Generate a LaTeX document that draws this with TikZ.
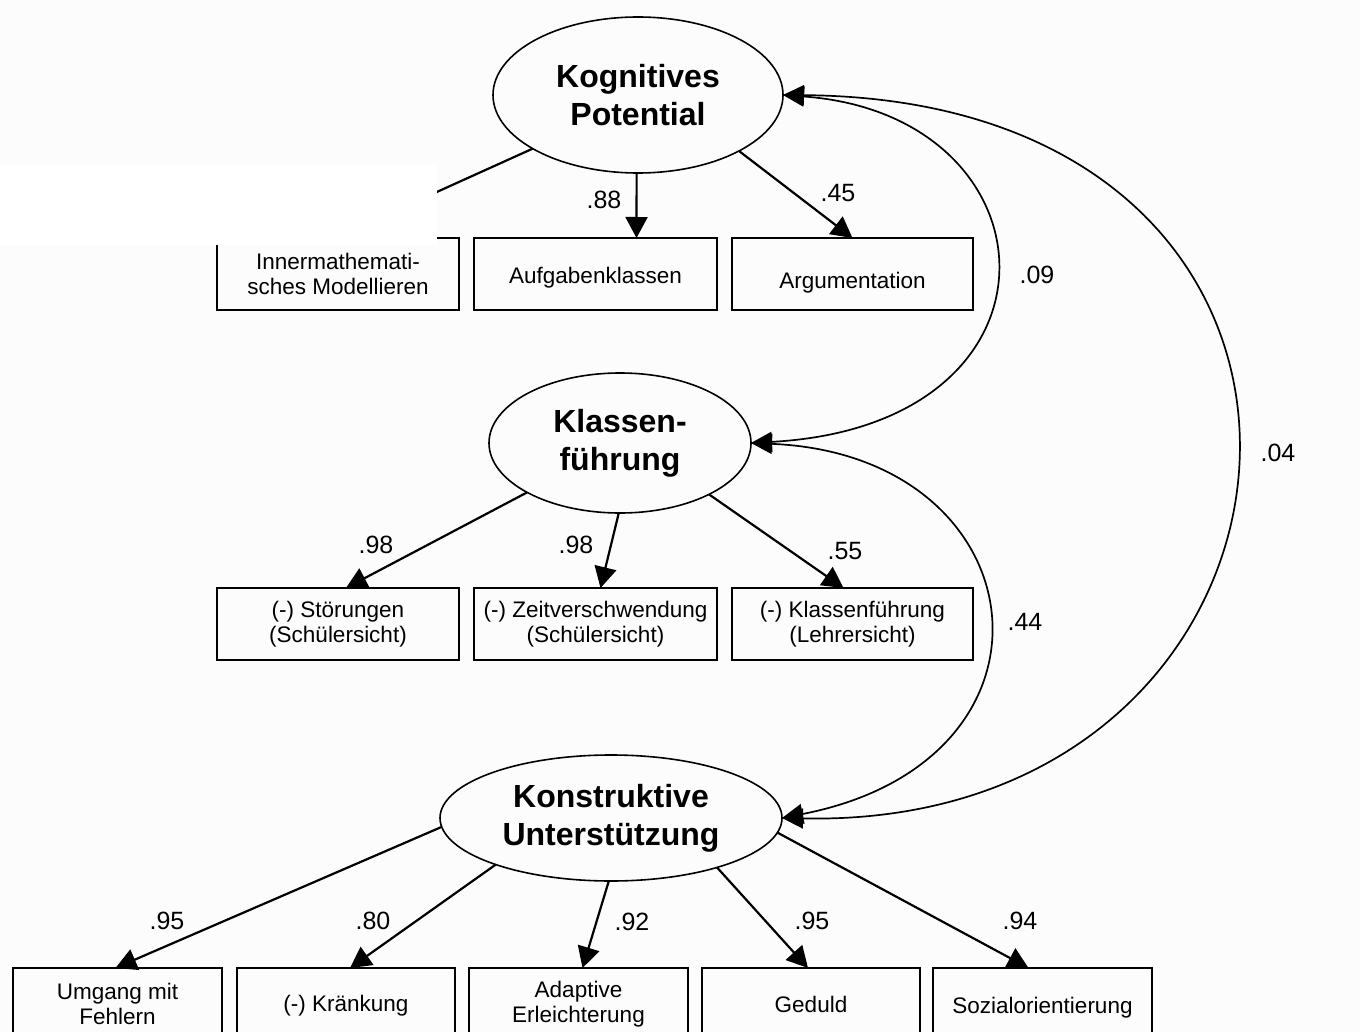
\documentclass[tikz,border=0pt]{standalone}
\usepackage{fontspec}
\setmainfont{Liberation Sans}
\usetikzlibrary{arrows.meta,shapes.geometric,calc}
\definecolor{paper}{RGB}{252,252,252}
\newcommand{\lowered}[2]{\raisebox{-#1}[0pt][0pt]{#2}}
\begin{document}
\begin{tikzpicture}[x=1pt,y=-1pt,
  latent/.style={ellipse,draw,line width=1.6pt,inner sep=0pt,outer sep=0pt,
    font=\fontsize{32}{38}\selectfont\bfseries,align=center},
  indicator/.style={rectangle,draw,line width=1.5pt,inner sep=0pt,outer sep=0pt,
    minimum height=72pt,font=\fontsize{22.5}{25}\selectfont,align=center},
  load/.style={line width=2.2pt,-{Triangle[length=21pt,width=22pt]}},
  cov/.style={line width=1.7pt,
    {Triangle[length=21pt,width=20pt]}-{Triangle[length=21pt,width=20pt]}},
  coef/.style={font=\fontsize{25}{25}\selectfont,inner sep=0pt}
]
\useasboundingbox (0,0) rectangle (1360,1032);
\clip (0,0) rectangle (1360,1032);
\fill[paper] (0,0) rectangle (1360,1032);

% latent factors
\node[latent,minimum width=290pt,minimum height=156pt] (kog) at (638,95) {Kognitives\\Potential};
\node[latent,minimum width=262pt,minimum height=140pt] (kls) at (620,443) {Klassen-\\führung};
\node[latent,minimum width=342pt,minimum height=126pt] (ku) at (611,818) {Konstruktive\\Unterstützung};

% indicators of Kognitives Potential
\node[indicator,minimum width=242pt] (b11) at (338,274) {Innermathemati-\\sches Modellieren};
\node[indicator,minimum width=243pt] (b12) at (595.5,274) {\lowered{10pt}{Aufgabenklassen}};
\node[indicator,minimum width=241pt] (b13) at (852.5,274) {\lowered{15pt}{Argumentation}};

% indicators of Klassenführung
\node[indicator,minimum width=242pt] (b21) at (338,624) {(-) Störungen\\(Schülersicht)};
\node[indicator,minimum width=243pt] (b22) at (595.5,624) {(-) Zeitverschwendung\\(Schülersicht)};
\node[indicator,minimum width=241pt] (b23) at (852.5,624) {(-) Klassenführung\\(Lehrersicht)};

% indicators of Konstruktive Unterstützung
\node[indicator,minimum width=209pt] (b31) at (117.5,1004) {Umgang mit\\Fehlern};
\node[indicator,minimum width=218pt] (b32) at (346,1004) {\lowered{7pt}{(-) Kränkung}};
\node[indicator,minimum width=219pt] (b33) at (578.5,1004) {Adaptive\\Erleichterung};
\node[indicator,minimum width=218pt] (b34) at (811,1004) {Geduld};
\node[indicator,minimum width=219pt] (b35) at (1042.5,1004) {\lowered{9pt}{Sozialorientierung}};

% factor loadings
\draw[load] (kog.207) -- ($(b11.north)+(-3,0)$);
\draw[load] (kog.-91) -- ($(b12.north)+(41,0)$);
\draw[load] (kog.-29) -- (b13.north);

\draw[load] (kls.208) -- ($(b21.north)+(8,0)$);
\draw[load] (kls.-91) -- ($(b22.north)+(5,0)$);
\draw[load] (kls.-30) -- ($(b23.north)+(-9,0)$);

\draw[load] (ku.183) -- ($(b31.north)+(-2,0)$);
\draw[load] (ku.202) -- ($(b32.north)+(4,0)$);
\draw[load] (ku.-92) -- ($(b33.north)+(4,0)$);
\draw[load] (ku.-25) -- ($(b34.north)+(-3,0)$);
\draw[load] (ku.-5) -- ($(b35.north)+(-14,0)$);

% factor correlations
\draw[cov] (kog.east) .. controls (1060,115) and (1080,425) .. (kls.east);
\draw[cov] (kls.east) .. controls (1040,455) and (1080,760) .. (ku.east);
\draw[cov] (kog.east) .. controls (1420,100) and (1350,830) .. (ku.east);

% coefficients
\node[coef] (c88) at (604,200) {.88};
\node[coef] (c45) at (838,193) {.45};
\node[coef] (c98a) at (376,545) {.98};
\node[coef] (c98b) at (576,545) {.98};
\node[coef] (c55) at (845,551) {.55};
\node[coef] (c95a) at (167,921) {.95};
\node[coef] (c80) at (373,921) {.80};
\node[coef] (c92) at (632,922) {.92};
\node[coef] (c95b) at (812,921) {.95};
\node[coef] (c94) at (1020,921) {.94};
\node[coef] (c09) at (1037,275) {.09};
\node[coef] (c44) at (1025,622) {.44};
\node[coef] (c04) at (1278,453) {.04};

% pasted white label over the upper left
\fill[white] (0,165) rectangle (437,245);
\end{tikzpicture}
\end{document}
